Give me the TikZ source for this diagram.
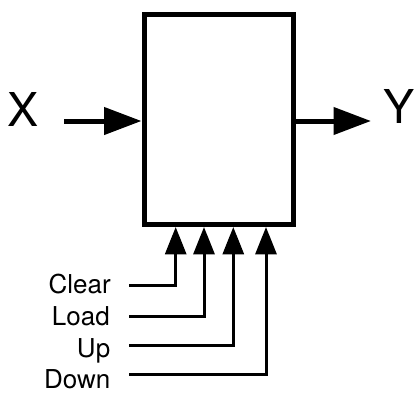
\documentclass[tikz,border=0pt]{standalone}
\usepackage{fontspec}
\setmainfont{TeX Gyre Heros}
\usetikzlibrary{arrows.meta}
\begin{document}
\begin{tikzpicture}[x=0.75pt,y=-0.75pt,
  blk/.style={draw, line width=3.75pt, minimum width=112.1pt, minimum height=157.5pt, inner sep=0pt},
  bigarrow/.style={line width=3.75pt, -{Triangle[length=28pt,width=20pt]}},
  ctrlarrow/.style={line width=2.25pt, -{Triangle[length=20.5pt,width=15.75pt]}},
  sig/.style={font=\fontsize{35}{40}\selectfont, inner sep=0pt, anchor=base},
  ctl/.style={font=\fontsize{19.5}{22}\selectfont, inner sep=0pt, anchor=base east}]
\useasboundingbox (0,0) rectangle (415,393);
\node[blk] (box) at (218.75,119.5) {};
\node[sig] (X) at (23.5,126) {X};
\node[sig] (Y) at (399.5,123.5) {Y};
\coordinate (xs) at (64,121);
\coordinate (ye) at (371,121);
\draw[bigarrow] (xs) -- (xs -| box.west);
\draw[bigarrow] (ye -| box.east) -- (ye);
\node[ctl] (clear) at (111,293) {Clear};
\node[ctl] (load) at (110,325.5) {Load};
\node[ctl] (up) at (110.5,357) {Up};
\node[ctl] (down) at (110.5,388.5) {Down};
\coordinate (c1) at (129,285);
\coordinate (c2) at (129,316.7);
\coordinate (c3) at (129,345.7);
\coordinate (c4) at (129,374);
\coordinate (t1) at (175.7,0);
\coordinate (t2) at (204,0);
\coordinate (t3) at (233.3,0);
\coordinate (t4) at (266,0);
\draw[ctrlarrow] (c1) -| (t1 |- box.south);
\draw[ctrlarrow] (c2) -| (t2 |- box.south);
\draw[ctrlarrow] (c3) -| (t3 |- box.south);
\draw[ctrlarrow] (c4) -| (t4 |- box.south);
\end{tikzpicture}
\end{document}
